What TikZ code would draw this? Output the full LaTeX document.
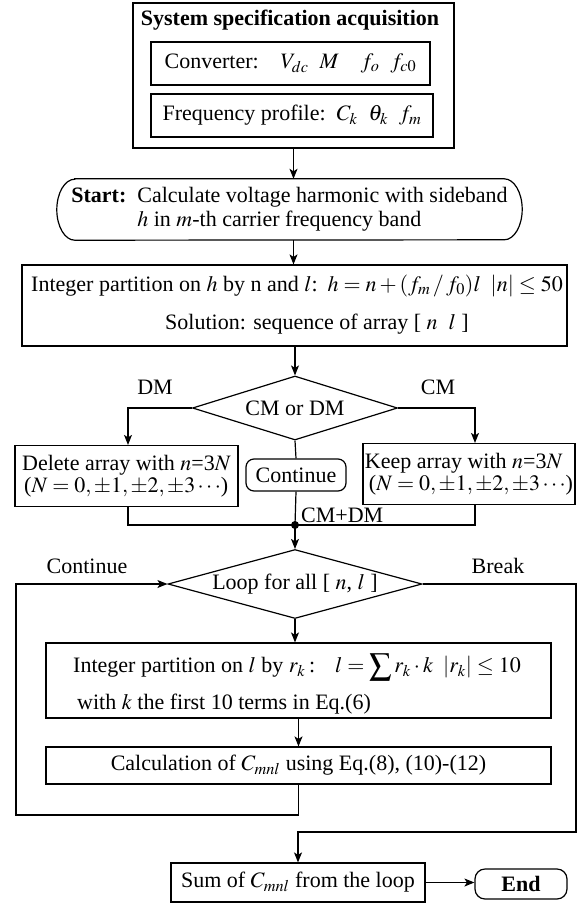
\documentclass[tikz,border=0pt]{standalone}
\usepackage{mathptmx}
\usepackage{fontspec}
\setmainfont{Liberation Serif}
\usetikzlibrary{shapes.geometric,arrows.meta,calc}
\newcommand{\dgfs}{\fontsize{22}{26}\selectfont}
\begin{document}
\begin{tikzpicture}[x=1pt,y=-1pt,
  every node/.style={font=\dgfs, inner sep=0pt},
  box/.style={draw, line width=1.2pt, rectangle},
  ln/.style={line width=1.2pt},
  arr/.style={line width=1.2pt, -{Stealth[length=10pt,width=8pt,inset=2.5pt]}},
  dia/.style={draw, line width=1.2pt, diamond}
]
\useasboundingbox (0,0) rectangle (578,903);

% top block
\node[box, minimum width=321pt, minimum height=145pt] (spec) at (293.5,75.5) {};
\node[anchor=base, font=\dgfs\bfseries] (title) at (290,25) {System specification acquisition};
\node[box, minimum width=279pt, minimum height=43pt] (conv) at (290.5,63.5)
  {Converter:\quad $V_{dc}$\enspace $M$\quad $f_o$\enspace $f_{c0}$};
\node[box, minimum width=282pt, minimum height=43pt] (freq) at (292,115.5)
  {Frequency profile:\enspace $C_k$\enspace $\theta_k$\enspace $f_m$};

% start (terminal with elliptic ends)
\node[minimum width=465pt, minimum height=61pt] (start) at (289.5,209.5)
  {\begin{tabular}{@{}l@{\ \ }l@{}}\textbf{Start:} & Calculate voltage harmonic with sideband\\[-2pt]
   & $h$ in $m$-th carrier frequency band\end{tabular}};
\draw[ln] ($(start.north west)+(18,0)$) -- ($(start.north east)+(-18,0)$)
  arc[start angle=90, end angle=-90, x radius=18pt, y radius=30.5pt]
  -- ($(start.south west)+(18,0)$)
  arc[start angle=270, end angle=90, x radius=18pt, y radius=30.5pt] -- cycle;

% partition on h
\node[box, minimum width=545pt, minimum height=81pt] (part) at (294.5,305.5) {};
\node (partA) at (297,286) {Integer partition on $h$ by n and $l$:\hspace{10pt}$h=n+(f_m\,/\,f_0)l$\hspace{10pt}$|n|\le 50$};
\node (partB) at (317,324) {Solution: sequence of array [ $n$\ \ $l$ ]};

% CM/DM decision
\node[dia, minimum width=205pt, minimum height=64pt, aspect=3.2] (d1) at (295,408) {CM or DM};
\node (dm) at (155,387) {DM};
\node (cm) at (438,387) {CM};
\node[box, minimum width=223pt, minimum height=61pt, align=left] (del) at (126.5,476)
  {Delete array with $n$=3$N$\\[-4pt]\hspace{2pt}($N=0,\pm1,\pm2,\pm3\cdots$)};
\node[box, minimum width=212pt, minimum height=61pt, align=left] (keep) at (469,474)
  {Keep array with $n$=3$N$\\[-4pt]\hspace{4pt}($N=0,\pm1,\pm2,\pm3\cdots$)};
\node[box, rounded corners=8pt, minimum width=100pt, minimum height=32pt] (cont) at (296,475) {Continue};
\node[circle, fill, minimum size=8pt] (jn) at (295,525) {};
\node[anchor=west] (cmdm) at (301,515) {CM+DM};

% loop
\node[dia, minimum width=254pt, minimum height=69pt, aspect=3.6] (d2) at (295,584) {Loop for all [ $n$, $l$ ]};
\node (lcont) at (87,566) {Continue};
\node (lbrk) at (498,566) {Break};
\node[box, minimum width=505pt, minimum height=75pt] (lbox) at (298.5,680.5) {};
\node (lboxA) at (297,667) {Integer partition on $l$ by $r_k$\,:\hspace{20pt}$l=\displaystyle\sum r_k\cdot k$\hspace{10pt}$|r_k|\le 10$};
\node[anchor=west] (lboxB) at (77,704) {with $k$ the first 10 terms in Eq.(6)};
\node[box, minimum width=505pt, minimum height=37pt] (calc) at (298.5,765.5)
  {Calculation of $C_{mnl}$ using Eq.(8), (10)-(12)};
\node[box, minimum width=254pt, minimum height=39pt] (sum) at (298,882.5) {Sum of $C_{mnl}$ from the loop};
\node[box, rounded corners=10pt, minimum width=92pt, minimum height=30pt, font=\dgfs\bfseries] (end) at (521,884) {End};

\coordinate (cl) at (16,815);
\coordinate (br) at (576,832);

% connectors
\draw[arr] (spec.south) -- (spec.south |- start.north);
\draw[arr] (start.south -| spec.south) -- (spec.south |- part.north);
\draw[arr] (part.south -| d1.north) -- (d1.north);
\draw[arr] (d1.west) -| ($(del.north)+(1.5,0)$);
\draw[arr] (d1.east) -| ($(keep.north)+(6,0)$);
\draw[ln] (d1.south) -- (cont.north);
\draw[ln] (cont.south) -- (jn.center);
\draw[ln] ($(del.south)+(1.5,0)$) |- (jn.center);
\draw[ln] ($(keep.south)+(6,0)$) |- (jn.center);
\draw[arr] (jn.center) -- (d2.north);
\draw[arr] (d2.south) -- (d2.south |- lbox.north);
\draw[arr] (lbox.south) -- (calc.north);
\draw[arr] (calc.south) |- (cl) |- (d2.west);
\draw[arr] (d2.east) -| (br) -| (sum.north);
\draw[arr] (sum.east) -- (sum.east -| end.west);
\end{tikzpicture}
\end{document}
